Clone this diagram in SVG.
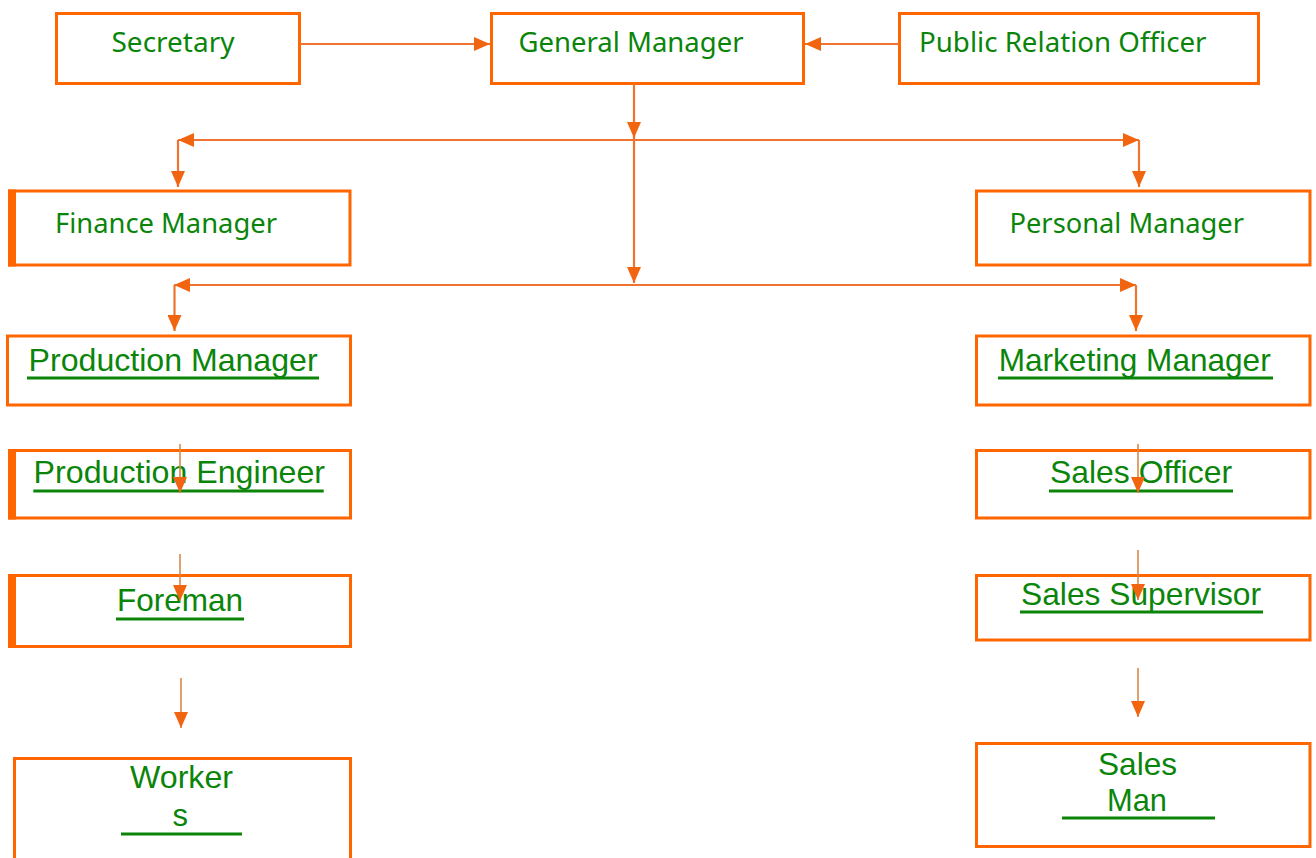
<svg xmlns="http://www.w3.org/2000/svg" width="1316" height="858" viewBox="0 0 1316 858">
<style>
.box{fill:#fff;stroke:#FF6600;stroke-width:3}
.band{fill:#FF6600}
.t1{font-family:"Noto Sans","Open Sans",sans-serif;font-size:28px;fill:#0A850A}
.t2{font-family:"Liberation Sans",Arial,sans-serif;font-size:32px;fill:#0A850A}
.ul{stroke:#0A850A;stroke-width:3}
.c{fill:none;stroke:#EE7430;stroke-width:2.2}
.cs{fill:none;stroke:#D9894A;stroke-width:1.6}
</style>
<defs>
<marker id="ah" markerUnits="userSpaceOnUse" viewBox="0 0 16 14" refX="16" refY="7" markerWidth="16" markerHeight="14" orient="auto-start-reverse">
<path d="M0,0 L16,7 L0,14 Z" fill="#F26510"/>
</marker>
</defs>
<rect width="1316" height="858" fill="#fff"/>
<g id="secretary"><rect class="box" x="56.5" y="13.5" width="243" height="70"/><text class="t1" x="111.5" y="52" textLength="123" lengthAdjust="spacingAndGlyphs">Secretary</text></g>
<g id="general-manager"><rect class="box" x="491.5" y="13.5" width="312" height="70"/><text class="t1" x="518.5" y="52" textLength="225" lengthAdjust="spacingAndGlyphs">General Manager</text></g>
<g id="public-relation-officer"><rect class="box" x="899.5" y="13.5" width="359" height="70"/><text class="t1" x="919" y="52" textLength="287.5" lengthAdjust="spacingAndGlyphs">Public Relation Officer</text></g>
<g id="finance-manager"><rect class="box" x="9.5" y="191" width="340.5" height="74"/><rect class="band" x="8" y="189.5" width="8" height="77"/><text class="t1" x="55" y="233" textLength="222" lengthAdjust="spacingAndGlyphs">Finance Manager</text></g>
<g id="personal-manager"><rect class="box" x="976.5" y="191" width="333.5" height="74"/><text class="t1" x="1009.5" y="233" textLength="234.5" lengthAdjust="spacingAndGlyphs">Personal Manager</text></g>
<g id="production-manager"><rect class="box" x="7.5" y="336" width="343" height="69"/><text class="t2" x="28.6" y="371" textLength="289" lengthAdjust="spacingAndGlyphs">Production Manager</text><line class="ul" x1="27" y1="378" x2="319" y2="378"/></g>
<g id="marketing-manager"><rect class="box" x="976.5" y="336" width="333.5" height="69"/><text class="t2" x="998.7" y="371" textLength="272" lengthAdjust="spacingAndGlyphs">Marketing Manager</text><line class="ul" x1="998" y1="378" x2="1273" y2="378"/></g>
<g id="production-engineer"><rect class="box" x="9.5" y="450.5" width="341" height="67.5"/><rect class="band" x="8" y="449" width="8" height="70.5"/><text class="t2" x="33.6" y="483" textLength="291.4" lengthAdjust="spacingAndGlyphs">Production Engineer</text><line class="ul" x1="33.3" y1="491" x2="323.7" y2="491"/></g>
<g id="sales-officer"><rect class="box" x="976.5" y="450.5" width="333.5" height="67.5"/><text class="t2" x="1050" y="483" textLength="182" lengthAdjust="spacingAndGlyphs">Sales Officer</text><line class="ul" x1="1049" y1="491" x2="1233" y2="491"/></g>
<g id="foreman"><rect class="box" x="9.5" y="575.5" width="341" height="71"/><rect class="band" x="8" y="574" width="8" height="74"/><text class="t2" x="117" y="611" textLength="126" lengthAdjust="spacingAndGlyphs">Foreman</text><line class="ul" x1="116" y1="619" x2="244" y2="619"/></g>
<g id="sales-supervisor"><rect class="box" x="976.5" y="575.5" width="333.5" height="64.5"/><text class="t2" x="1021" y="605" textLength="240" lengthAdjust="spacingAndGlyphs">Sales Supervisor</text><line class="ul" x1="1020" y1="612" x2="1263" y2="612"/></g>
<g id="workers"><rect class="box" x="14.5" y="758.5" width="336" height="110"/><text class="t2" x="130" y="788" textLength="103" lengthAdjust="spacingAndGlyphs">Worker</text><text class="t2" x="172.5" y="826" textLength="15.5" lengthAdjust="spacingAndGlyphs">s</text><line class="ul" x1="121" y1="834" x2="242" y2="834"/></g>
<g id="sales-man"><rect class="box" x="976.5" y="743.5" width="333.5" height="103"/><text class="t2" x="1098" y="775" textLength="79" lengthAdjust="spacingAndGlyphs">Sales</text><text class="t2" x="1107" y="811" textLength="60" lengthAdjust="spacingAndGlyphs">Man</text><line class="ul" x1="1062" y1="818" x2="1215" y2="818"/></g>
<g id="connectors">
<path class="c" d="M300,44 H490" marker-end="url(#ah)"/>
<path class="c" d="M899,44 H805" marker-end="url(#ah)"/>
<path class="c" d="M634,84 V138" marker-end="url(#ah)"/>
<path class="c" d="M634,138 V283" marker-end="url(#ah)"/>
<path class="c" d="M178,140 H1139" marker-start="url(#ah)" marker-end="url(#ah)"/>
<path class="c" d="M178,140 V187" marker-end="url(#ah)"/>
<path class="c" d="M1139,140 V187" marker-end="url(#ah)"/>
<path class="c" d="M174,285 H1136" marker-start="url(#ah)" marker-end="url(#ah)"/>
<path class="c" d="M174.5,285 V331" marker-end="url(#ah)"/>
<path class="c" d="M1136,285 V331" marker-end="url(#ah)"/>
<path class="cs" d="M180,444 V493" marker-end="url(#ah)"/>
<path class="cs" d="M180,554 V601" marker-end="url(#ah)"/>
<path class="cs" d="M181,678 V728" marker-end="url(#ah)"/>
<path class="cs" d="M1138,444 V493" marker-end="url(#ah)"/>
<path class="cs" d="M1138,550 V600" marker-end="url(#ah)"/>
<path class="cs" d="M1138,668 V717" marker-end="url(#ah)"/>
</g>
</svg>
